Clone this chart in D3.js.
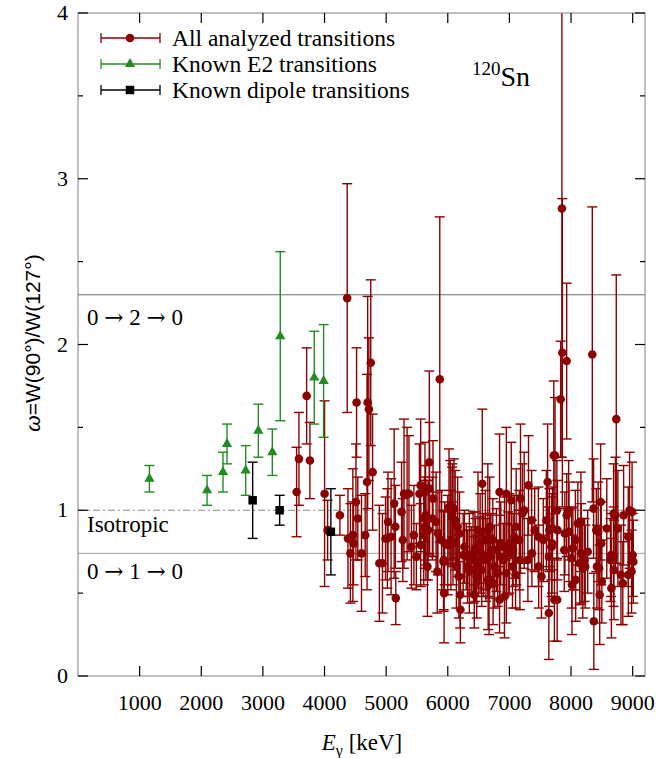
<!DOCTYPE html>
<html>
<head>
<meta charset="utf-8">
<script src="https://cdn.jsdelivr.net/npm/d3@7"></script>
<style>
  body { margin: 0; background: #fff; }
  svg { display: block; }
  text { font-family: "Liberation Serif", "Times New Roman", serif; fill: #000; }
</style>
</head>
<body>
<svg id="chart" width="659" height="758"></svg>
<script>
// Known E2 transitions: [E (keV), omega, error]
const e2Points = [
  [1159, 1.19, 0.08], [2094, 1.12, 0.09], [2353, 1.23, 0.12], [2418, 1.40, 0.12],
  [2721, 1.24, 0.15], [2926, 1.48, 0.16], [3153, 1.35, 0.14], [3282, 2.05, 0.51],
  [3833, 1.80, 0.28], [3985, 1.78, 0.34]
];

// Known dipole transitions
const dipolePoints = [
  [2834, 1.06, 0.23], [3272, 1.00, 0.09], [4103, 0.87, 0.26]
];

// All analyzed transitions
const allPoints = [
  [3547, 1.11, 0.27], [3585, 1.31, 0.28], [3710, 1.69, 0.29], [3763, 1.30, 0.23],
  [4001, 1.10, 0.56], [4050, 0.88, 0.18], [4250, 0.97, 0.12], [4368, 2.28, 0.69],
  [4380, 0.83, 0.30], [4460, 0.85, 0.40], [4470, 0.80, 0.25], [4420, 0.74, 0.30],
  [4510, 1.05, 0.35], [4520, 1.65, 0.33], [4540, 0.95, 0.25], [4600, 0.74, 0.35],
  [4660, 0.85, 0.25], [4690, 1.17, 0.65], [4700, 1.65, 0.64], [4720, 1.61, 0.43],
  [4750, 1.89, 0.50], [4780, 1.23, 0.35], [4890, 0.68, 0.35], [4940, 0.68, 0.30],
  [5156, 0.47, 0.16], [5030, 0.93, 0.30], [5130, 1.04, 0.45], [5150, 0.90, 0.25],
  [5020, 0.83, 0.30], [4990, 0.83, 0.25], [5080, 0.84, 0.35], [5250, 0.99, 0.30],
  [5270, 0.82, 0.25], [5290, 1.10, 0.45], [5340, 1.10, 0.40], [5370, 1.10, 0.35],
  [5410, 0.78, 0.25], [5490, 0.72, 0.20], [5450, 0.85, 0.30], [5560, 1.15, 0.40],
  [5540, 1.10, 0.30], [5630, 1.11, 0.30], [5700, 1.29, 0.55], [5705, 1.13, 0.40],
  [5760, 1.07, 0.35], [5870, 1.79, 0.98], [5640, 0.97, 0.30], [5625, 0.90, 0.25],
  [5680, 0.88, 0.30], [5670, 0.66, 0.30], [5830, 0.63, 0.25], [5940, 0.50, 0.30],
  [5930, 0.69, 0.30], [6020, 1.02, 0.35], [6070, 0.96, 0.30], [6100, 1.01, 0.30],
  [6160, 0.90, 0.30], [6190, 0.86, 0.25], [6200, 0.49, 0.20], [6205, 0.40, 0.20],
  [6180, 0.60, 0.25], [6140, 0.66, 0.25], [6560, 1.16, 0.45], [6490, 0.88, 0.35],
  [6430, 0.49, 0.20], [6350, 0.63, 0.25], [6650, 0.88, 0.40], [6670, 0.55, 0.30],
  [5620, 0.95, 0.25], [5645, 0.88, 0.30], [5750, 0.95, 0.25], [5810, 0.93, 0.30],
  [5840, 0.86, 0.25], [5560, 0.79, 0.25], [5610, 0.85, 0.30], [5900, 0.82, 0.30],
  [5950, 0.80, 0.25], [6000, 0.79, 0.30], [6050, 0.82, 0.30], [6085, 0.80, 0.25],
  [5935, 0.70, 0.30], [6040, 1.00, 0.30], [6075, 0.98, 0.30], [6120, 0.94, 0.30],
  [6250, 0.73, 0.25], [6300, 0.72, 0.20], [6350, 0.73, 0.25], [6410, 0.74, 0.25],
  [6450, 0.70, 0.25], [6520, 0.76, 0.20], [6580, 0.73, 0.25], [6610, 0.82, 0.30],
  [6525, 0.80, 0.30], [6420, 0.64, 0.20], [6470, 0.60, 0.25], [6655, 0.58, 0.30],
  [6270, 0.78, 0.22], [6320, 0.66, 0.22], [6380, 0.70, 0.20], [6440, 0.77, 0.22],
  [6500, 0.68, 0.20], [6550, 0.64, 0.22], [6620, 0.70, 0.25], [6700, 0.76, 0.22],
  [6860, 0.80, 0.25], [6900, 0.70, 0.22], [6980, 0.74, 0.25], [7060, 0.76, 0.22],
  [6840, 1.11, 0.35], [6950, 1.10, 0.40], [7030, 1.06, 0.35], [7180, 1.07, 0.45],
  [7310, 1.15, 0.30], [7620, 1.17, 0.35], [7720, 1.33, 0.45], [7240, 1.00, 0.35],
  [7210, 0.98, 0.30], [6680, 0.90, 0.30], [6730, 0.82, 0.25], [6790, 0.76, 0.25],
  [6845, 0.72, 0.25], [6920, 0.78, 0.30], [7000, 0.80, 0.30], [7080, 0.84, 0.25],
  [7160, 0.82, 0.30], [7110, 0.90, 0.35], [7360, 0.94, 0.30], [7410, 0.88, 0.25],
  [7470, 0.84, 0.30], [7550, 0.82, 0.25], [7600, 0.94, 0.30], [7650, 0.88, 0.25],
  [7685, 0.78, 0.30], [6680, 0.72, 0.25], [6760, 0.66, 0.25], [6810, 0.62, 0.20],
  [6735, 0.56, 0.25], [6840, 0.46, 0.20], [6920, 0.48, 0.25], [6950, 0.62, 0.30],
  [7050, 0.66, 0.25], [7100, 0.61, 0.20], [7170, 0.70, 0.30], [7300, 0.70, 0.25],
  [7365, 0.74, 0.20], [7475, 0.66, 0.25], [7520, 0.60, 0.25], [7640, 0.72, 0.30],
  [7690, 0.80, 0.30], [7640, 0.38, 0.28], [7730, 0.46, 0.25],
  [7740, 1.33, 0.35], [7831, 1.67, 0.35], [7859, 1.95, 0.93], [7852, 2.82, 1.50],
  [7929, 1.90, 0.47], [8345, 1.94, 0.89], [8734, 1.55, 0.87], [7770, 1.00, 0.30],
  [7961, 1.00, 0.30], [7930, 0.97, 0.25], [8160, 0.93, 0.30], [8110, 0.92, 0.25],
  [8366, 1.01, 0.30], [8410, 0.88, 0.25], [7700, 0.89, 0.25], [7780, 0.88, 0.30],
  [7900, 0.86, 0.25], [7965, 0.87, 0.30], [8070, 0.82, 0.30], [7680, 0.78, 0.20],
  [7890, 0.76, 0.25], [8030, 0.77, 0.25], [8165, 0.74, 0.30], [8270, 0.75, 0.25],
  [8220, 0.70, 0.25], [8010, 0.71, 0.30], [8140, 0.68, 0.25], [8190, 0.65, 0.30],
  [8230, 0.66, 0.25], [8420, 0.66, 0.25], [8075, 0.58, 0.25], [8015, 0.55, 0.30],
  [7775, 0.46, 0.25], [8370, 0.33, 0.29],
  [8480, 1.05, 0.35], [8690, 0.98, 0.30], [8720, 0.97, 0.35], [8853, 0.97, 0.30],
  [8950, 1.00, 0.35], [8990, 0.99, 0.30], [8580, 0.89, 0.30], [8760, 0.89, 0.35],
  [8928, 0.84, 0.30], [8490, 0.80, 0.25], [8440, 0.87, 0.30], [8650, 0.73, 0.25],
  [8690, 0.72, 0.30], [8640, 0.70, 0.25], [9000, 0.73, 0.25], [9010, 0.69, 0.25],
  [8455, 0.65, 0.25], [8695, 0.64, 0.30], [8982, 0.63, 0.25], [8930, 0.61, 0.25],
  [8810, 0.61, 0.30], [8500, 0.57, 0.25], [8840, 0.56, 0.25], [8655, 0.53, 0.30],
  [8465, 0.49, 0.30]
];

// Reference lines
const line020 = 2.3;
const line010 = 0.74;
const isotropic = 1.0;

const xTicks = [1000, 2000, 3000, 4000, 5000, 6000, 7000, 8000, 9000];
const yTicks = [0, 1, 2, 3, 4];
const yMinorTicks = [0.5, 1.5, 2.5, 3.5];

const legendItems = [
  { label: "All analyzed transitions", color: "#8b0000", shape: "circle" },
  { label: "Known E2 transitions", color: "#228b22", shape: "triangle" },
  { label: "Known dipole transitions", color: "#000000", shape: "square" }
];

const svg = d3.select("#chart");
const pLeft = 78, pRight = 645, pTop = 13, pBottom = 676;

const x = d3.scaleLinear().domain([0, 9200]).range([pLeft, pRight]);
const y = d3.scaleLinear().domain([0, 4]).range([pBottom, pTop]);

svg.append("clipPath").attr("id", "clip")
  .append("rect").attr("x", pLeft).attr("y", pTop)
  .attr("width", pRight - pLeft).attr("height", pBottom - pTop);

const plot = svg.append("g").attr("clip-path", "url(#clip)");

// horizontal reference lines
plot.append("line")
  .attr("x1", pLeft).attr("x2", pRight)
  .attr("y1", y(line020)).attr("y2", y(line020))
  .attr("stroke", "#6e6e6e").attr("stroke-width", 1);
plot.append("line")
  .attr("x1", pLeft).attr("x2", pRight)
  .attr("y1", y(line010)).attr("y2", y(line010))
  .attr("stroke", "#a0a0a0").attr("stroke-width", 1);
plot.append("line")
  .attr("x1", pLeft).attr("x2", pRight)
  .attr("y1", y(isotropic)).attr("y2", y(isotropic))
  .attr("stroke", "#8a8a8a").attr("stroke-width", 1)
  .attr("stroke-dasharray", "7,3,2,3");

// labels for the reference lines (arrows from DejaVu Serif, they are heavier)
function arrowLabel(yPos, a, b, c) {
  const t = svg.append("text").attr("x", 87).attr("y", yPos).style("font-size", "23px");
  t.append("tspan").text(a + " ");
  t.append("tspan").style("font-family", "'DejaVu Serif', serif").style("font-size", "23px").text("\u2192");
  t.append("tspan").text(" " + b + " ");
  t.append("tspan").style("font-family", "'DejaVu Serif', serif").style("font-size", "23px").text("\u2192");
  t.append("tspan").text(" " + c);
}
arrowLabel(325, "0", "2", "0");
arrowLabel(579, "0", "1", "0");
svg.append("text").attr("x", 87).attr("y", 532).style("font-size", "23px")
  .text("Isotropic");

// error bars + markers
function symbolFor(shape) {
  return shape === "circle" ? d3.symbolCircle : shape === "triangle" ? d3.symbolTriangle : d3.symbolSquare;
}
function sizeFor(shape) {
  return shape === "circle" ? 58 : shape === "triangle" ? 46 : 72;
}

function drawSeries(data, color, shape) {
  const g = plot.append("g");
  const bars = g.selectAll(".bar").data(data).enter().append("g");
  bars.append("line")
    .attr("x1", d => x(d[0])).attr("x2", d => x(d[0]))
    .attr("y1", d => y(d[1] - d[2])).attr("y2", d => y(d[1] + d[2]))
    .attr("stroke", color).attr("stroke-width", 1.4);
  [-1, 1].forEach(s => {
    bars.append("line")
      .attr("x1", d => x(d[0]) - 5).attr("x2", d => x(d[0]) + 5)
      .attr("y1", d => y(d[1] + s * d[2])).attr("y2", d => y(d[1] + s * d[2]))
      .attr("stroke", color).attr("stroke-width", 1.4);
  });
  g.selectAll(".pt").data(data).enter().append("path")
    .attr("d", d3.symbol().type(symbolFor(shape)).size(sizeFor(shape)))
    .attr("transform", d => `translate(${x(d[0])},${y(d[1])})`)
    .attr("fill", color);
}

drawSeries(allPoints, "#8b0000", "circle");
drawSeries(e2Points, "#228b22", "triangle");
drawSeries(dipolePoints, "#000000", "square");

// frame
svg.append("rect")
  .attr("x", pLeft).attr("y", pTop)
  .attr("width", pRight - pLeft).attr("height", pBottom - pTop)
  .attr("fill", "none").attr("stroke", "#808080").attr("stroke-width", 1);

// ticks (inward, on all four sides)
const tickG = svg.append("g").attr("stroke", "#000").attr("stroke-width", 1.2);
xTicks.forEach(t => {
  tickG.append("line").attr("x1", x(t)).attr("x2", x(t)).attr("y1", pBottom).attr("y2", pBottom - 10);
  tickG.append("line").attr("x1", x(t)).attr("x2", x(t)).attr("y1", pTop).attr("y2", pTop + 10);
});
yTicks.forEach(t => {
  tickG.append("line").attr("x1", pLeft).attr("x2", pLeft + 10).attr("y1", y(t)).attr("y2", y(t));
  tickG.append("line").attr("x1", pRight).attr("x2", pRight - 10).attr("y1", y(t)).attr("y2", y(t));
});
yMinorTicks.forEach(t => {
  tickG.append("line").attr("x1", pLeft).attr("x2", pLeft + 5).attr("y1", y(t)).attr("y2", y(t));
  tickG.append("line").attr("x1", pRight).attr("x2", pRight - 5).attr("y1", y(t)).attr("y2", y(t));
});

// tick labels
svg.selectAll(".xl").data(xTicks).enter().append("text")
  .attr("x", d => x(d)).attr("y", 710)
  .attr("text-anchor", "middle").style("font-size", "22px")
  .text(d => d);
svg.selectAll(".yl").data(yTicks).enter().append("text")
  .attr("x", 68).attr("y", d => y(d) + 7)
  .attr("text-anchor", "end").style("font-size", "22px")
  .text(d => d);

// axis titles
const xt = svg.append("text").attr("x", 362).attr("y", 750)
  .attr("text-anchor", "middle").style("font-size", "23px");
xt.append("tspan").style("font-style", "italic").text("E");
xt.append("tspan").attr("dy", 6).style("font-size", "16px").text("\u03b3");
xt.append("tspan").attr("dy", -6).text(" [keV]");

const yt = svg.append("text")
  .attr("transform", "translate(40,343) rotate(-90)")
  .attr("text-anchor", "middle")
  .style("font-family", "'Liberation Sans', Arial, sans-serif")
  .style("font-size", "21px");
yt.append("tspan").style("font-style", "italic").text("\u03c9");
yt.append("tspan").text("=W(90\u00b0)/W(127\u00b0)");

// nucleus label
const nl = svg.append("text").attr("x", 472).attr("y", 86).style("font-size", "28px");
nl.append("tspan").attr("dy", -11).style("font-size", "19px").text("120");
nl.append("tspan").attr("dy", 11).text("Sn");

// legend
const lg = svg.append("g");
legendItems.forEach((item, i) => {
  const ly = 38 + i * 26;
  const g = lg.append("g").attr("stroke", item.color).attr("stroke-width", 1.3);
  g.append("line").attr("x1", 101).attr("x2", 160).attr("y1", ly).attr("y2", ly);
  g.append("line").attr("x1", 101).attr("x2", 101).attr("y1", ly - 5).attr("y2", ly + 5);
  g.append("line").attr("x1", 160).attr("x2", 160).attr("y1", ly - 5).attr("y2", ly + 5);
  lg.append("path").attr("d", d3.symbol().type(symbolFor(item.shape)).size(sizeFor(item.shape)))
    .attr("transform", `translate(130,${ly})`).attr("fill", item.color);
  lg.append("text").attr("x", 172).attr("y", ly + 8).style("font-size", "23.5px").text(item.label);
});
</script>
</body>
</html>
